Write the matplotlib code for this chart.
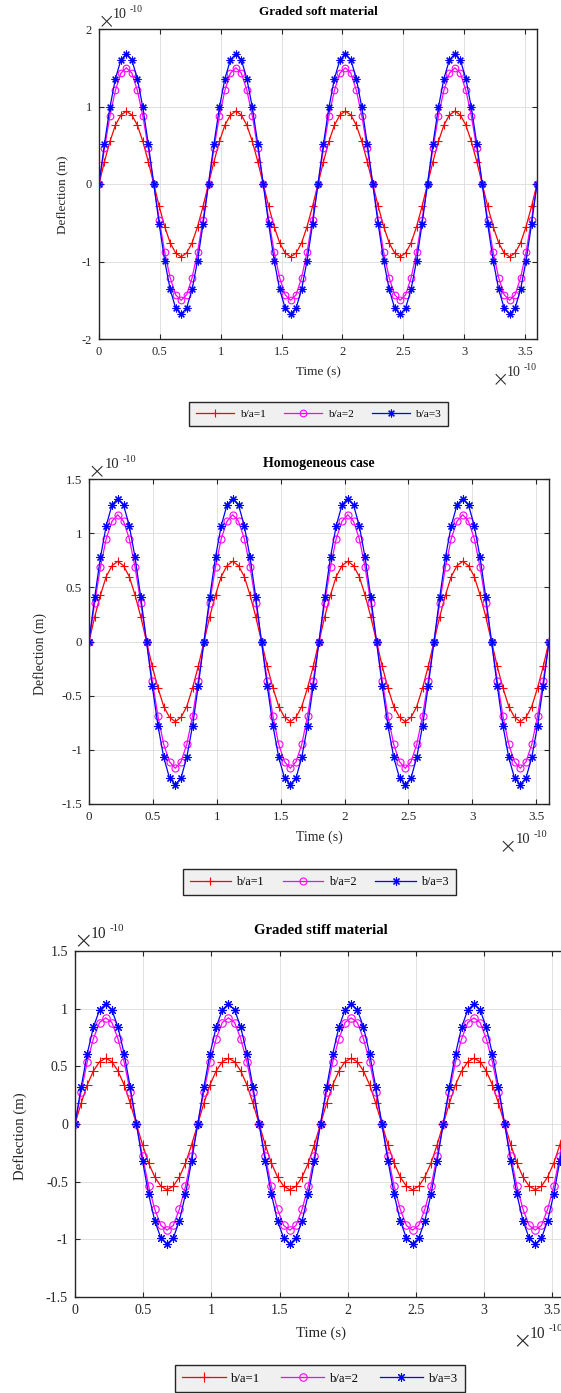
import numpy as np
import matplotlib
matplotlib.use("Agg")
import matplotlib.pyplot as plt

plt.rcParams['font.family'] = ['Liberation Serif', 'DejaVu Serif']
plt.rcParams['axes.unicode_minus'] = False

W, H = 561, 1393

# Sampling instants (units of 1e-10 s)
time = np.linspace(0.0, 3.6, 81)

# Deflection samples (units of 1e-10 m)
soft_ba1 = [0, 0.29, 0.55, 0.76, 0.89, 0.94, 0.89, 0.76, 0.55, 0.29, 0, -0.29, -0.55, -0.76, -0.89, -0.94, -0.89, -0.76, -0.55, -0.29,
            0, 0.29, 0.55, 0.76, 0.89, 0.94, 0.89, 0.76, 0.55, 0.29, 0, -0.29, -0.55, -0.76, -0.89, -0.94, -0.89, -0.76, -0.55, -0.29,
            0, 0.29, 0.55, 0.76, 0.89, 0.94, 0.89, 0.76, 0.55, 0.29, 0, -0.29, -0.55, -0.76, -0.89, -0.94, -0.89, -0.76, -0.55, -0.29,
            0, 0.29, 0.55, 0.76, 0.89, 0.94, 0.89, 0.76, 0.55, 0.29, 0, -0.29, -0.55, -0.76, -0.89, -0.94, -0.89, -0.76, -0.55, -0.29,
            0]
soft_ba2 = [0, 0.46, 0.88, 1.21, 1.43, 1.50, 1.43, 1.21, 0.88, 0.46, 0, -0.46, -0.88, -1.21, -1.43, -1.50, -1.43, -1.21, -0.88, -0.46,
            0, 0.46, 0.88, 1.21, 1.43, 1.50, 1.43, 1.21, 0.88, 0.46, 0, -0.46, -0.88, -1.21, -1.43, -1.50, -1.43, -1.21, -0.88, -0.46,
            0, 0.46, 0.88, 1.21, 1.43, 1.50, 1.43, 1.21, 0.88, 0.46, 0, -0.46, -0.88, -1.21, -1.43, -1.50, -1.43, -1.21, -0.88, -0.46,
            0, 0.46, 0.88, 1.21, 1.43, 1.50, 1.43, 1.21, 0.88, 0.46, 0, -0.46, -0.88, -1.21, -1.43, -1.50, -1.43, -1.21, -0.88, -0.46,
            0]
soft_ba3 = [0, 0.52, 0.99, 1.36, 1.60, 1.68, 1.60, 1.36, 0.99, 0.52, 0, -0.52, -0.99, -1.36, -1.60, -1.68, -1.60, -1.36, -0.99, -0.52,
            0, 0.52, 0.99, 1.36, 1.60, 1.68, 1.60, 1.36, 0.99, 0.52, 0, -0.52, -0.99, -1.36, -1.60, -1.68, -1.60, -1.36, -0.99, -0.52,
            0, 0.52, 0.99, 1.36, 1.60, 1.68, 1.60, 1.36, 0.99, 0.52, 0, -0.52, -0.99, -1.36, -1.60, -1.68, -1.60, -1.36, -0.99, -0.52,
            0, 0.52, 0.99, 1.36, 1.60, 1.68, 1.60, 1.36, 0.99, 0.52, 0, -0.52, -0.99, -1.36, -1.60, -1.68, -1.60, -1.36, -0.99, -0.52,
            0]

homo_ba1 = [0, 0.23, 0.43, 0.60, 0.70, 0.74, 0.70, 0.60, 0.43, 0.23, 0, -0.23, -0.43, -0.60, -0.70, -0.74, -0.70, -0.60, -0.43, -0.23,
            0, 0.23, 0.43, 0.60, 0.70, 0.74, 0.70, 0.60, 0.43, 0.23, 0, -0.23, -0.43, -0.60, -0.70, -0.74, -0.70, -0.60, -0.43, -0.23,
            0, 0.23, 0.43, 0.60, 0.70, 0.74, 0.70, 0.60, 0.43, 0.23, 0, -0.23, -0.43, -0.60, -0.70, -0.74, -0.70, -0.60, -0.43, -0.23,
            0, 0.23, 0.43, 0.60, 0.70, 0.74, 0.70, 0.60, 0.43, 0.23, 0, -0.23, -0.43, -0.60, -0.70, -0.74, -0.70, -0.60, -0.43, -0.23,
            0]
homo_ba2 = [0, 0.36, 0.69, 0.95, 1.11, 1.17, 1.11, 0.95, 0.69, 0.36, 0, -0.36, -0.69, -0.95, -1.11, -1.17, -1.11, -0.95, -0.69, -0.36,
            0, 0.36, 0.69, 0.95, 1.11, 1.17, 1.11, 0.95, 0.69, 0.36, 0, -0.36, -0.69, -0.95, -1.11, -1.17, -1.11, -0.95, -0.69, -0.36,
            0, 0.36, 0.69, 0.95, 1.11, 1.17, 1.11, 0.95, 0.69, 0.36, 0, -0.36, -0.69, -0.95, -1.11, -1.17, -1.11, -0.95, -0.69, -0.36,
            0, 0.36, 0.69, 0.95, 1.11, 1.17, 1.11, 0.95, 0.69, 0.36, 0, -0.36, -0.69, -0.95, -1.11, -1.17, -1.11, -0.95, -0.69, -0.36,
            0]
homo_ba3 = [0, 0.41, 0.78, 1.07, 1.26, 1.32, 1.26, 1.07, 0.78, 0.41, 0, -0.41, -0.78, -1.07, -1.26, -1.32, -1.26, -1.07, -0.78, -0.41,
            0, 0.41, 0.78, 1.07, 1.26, 1.32, 1.26, 1.07, 0.78, 0.41, 0, -0.41, -0.78, -1.07, -1.26, -1.32, -1.26, -1.07, -0.78, -0.41,
            0, 0.41, 0.78, 1.07, 1.26, 1.32, 1.26, 1.07, 0.78, 0.41, 0, -0.41, -0.78, -1.07, -1.26, -1.32, -1.26, -1.07, -0.78, -0.41,
            0, 0.41, 0.78, 1.07, 1.26, 1.32, 1.26, 1.07, 0.78, 0.41, 0, -0.41, -0.78, -1.07, -1.26, -1.32, -1.26, -1.07, -0.78, -0.41,
            0]

stiff_ba1 = [0, 0.18, 0.34, 0.46, 0.54, 0.57, 0.54, 0.46, 0.34, 0.18, 0, -0.18, -0.34, -0.46, -0.54, -0.57, -0.54, -0.46, -0.34, -0.18,
             0, 0.18, 0.34, 0.46, 0.54, 0.57, 0.54, 0.46, 0.34, 0.18, 0, -0.18, -0.34, -0.46, -0.54, -0.57, -0.54, -0.46, -0.34, -0.18,
             0, 0.18, 0.34, 0.46, 0.54, 0.57, 0.54, 0.46, 0.34, 0.18, 0, -0.18, -0.34, -0.46, -0.54, -0.57, -0.54, -0.46, -0.34, -0.18,
             0, 0.18, 0.34, 0.46, 0.54, 0.57, 0.54, 0.46, 0.34, 0.18, 0, -0.18, -0.34, -0.46, -0.54, -0.57, -0.54, -0.46, -0.34, -0.18,
             0]
stiff_ba2 = [0, 0.28, 0.54, 0.74, 0.88, 0.92, 0.88, 0.74, 0.54, 0.28, 0, -0.28, -0.54, -0.74, -0.88, -0.92, -0.88, -0.74, -0.54, -0.28,
             0, 0.28, 0.54, 0.74, 0.88, 0.92, 0.88, 0.74, 0.54, 0.28, 0, -0.28, -0.54, -0.74, -0.88, -0.92, -0.88, -0.74, -0.54, -0.28,
             0, 0.28, 0.54, 0.74, 0.88, 0.92, 0.88, 0.74, 0.54, 0.28, 0, -0.28, -0.54, -0.74, -0.88, -0.92, -0.88, -0.74, -0.54, -0.28,
             0, 0.28, 0.54, 0.74, 0.88, 0.92, 0.88, 0.74, 0.54, 0.28, 0, -0.28, -0.54, -0.74, -0.88, -0.92, -0.88, -0.74, -0.54, -0.28,
             0]
stiff_ba3 = [0, 0.32, 0.61, 0.84, 0.99, 1.04, 0.99, 0.84, 0.61, 0.32, 0, -0.32, -0.61, -0.84, -0.99, -1.04, -0.99, -0.84, -0.61, -0.32,
             0, 0.32, 0.61, 0.84, 0.99, 1.04, 0.99, 0.84, 0.61, 0.32, 0, -0.32, -0.61, -0.84, -0.99, -1.04, -0.99, -0.84, -0.61, -0.32,
             0, 0.32, 0.61, 0.84, 0.99, 1.04, 0.99, 0.84, 0.61, 0.32, 0, -0.32, -0.61, -0.84, -0.99, -1.04, -0.99, -0.84, -0.61, -0.32,
             0, 0.32, 0.61, 0.84, 0.99, 1.04, 0.99, 0.84, 0.61, 0.32, 0, -0.32, -0.61, -0.84, -0.99, -1.04, -0.99, -0.84, -0.61, -0.32,
             0]

series_labels = ['b/a=1', 'b/a=2', 'b/a=3']
series_colors = ['#ff0000', '#ff00ff', '#0000ff']
series_markers = ['+', 'o', (8, 2, 0)]
series_msize = [6.0, 4.8, 5.6]

x_ticks = [0, 0.5, 1, 1.5, 2, 2.5, 3, 3.5]

panels = [
    dict(title='Graded soft material', data=[soft_ba1, soft_ba2, soft_ba3],
         box=(99, 29, 537, 339), ylim=(-2, 2), yticks=[-2, -1, 0, 1, 2], s=1.0,
         title_y=12, xlabel_y=372, ylabel_x=62, ylabel_y=195,
         ymult=(106, 22), xmult=(500, 380), legend=(187, 402, 450, 426)),
    dict(title='Homogeneous case', data=[homo_ba1, homo_ba2, homo_ba3],
         box=(89, 479, 549, 804), ylim=(-1.5, 1.5), yticks=[-1.5, -1, -0.5, 0, 0.5, 1, 1.5], s=1.05,
         title_y=463, xlabel_y=837, ylabel_x=40, ylabel_y=654,
         ymult=(97, 472), xmult=(508, 847), legend=(182, 869, 457, 895)),
    dict(title='Graded stiff material', data=[stiff_ba1, stiff_ba2, stiff_ba3],
         box=(75, 951, 566, 1297), ylim=(-1.5, 1.5), yticks=[-1.5, -1, -0.5, 0, 0.5, 1, 1.5], s=1.12,
         title_y=931, xlabel_y=1333, ylabel_x=20, ylabel_y=1136,
         ymult=(83, 942), xmult=(522, 1342), legend=(173, 1366, 467, 1391)),
]

AX_COLOR = '#262626'


def fx(x):
    return x / W


def fy(y):
    return 1.0 - y / H


def exponent_label(fig, cx, cy, s):
    fig.text(fx(cx), fy(cy), '\u00d7', fontsize=15 * s, ha='center', va='center',
             color=AX_COLOR, family=['DejaVu Sans'], fontweight='ultralight')
    fig.text(fx(cx + 7 * s), fy(cy - 7 * s), '10', fontsize=10 * s, ha='left', va='center', color=AX_COLOR)
    fig.text(fx(cx + 24 * s), fy(cy - 12 * s), '-10', fontsize=7 * s, ha='left', va='center', color=AX_COLOR)


fig = plt.figure(figsize=(W / 100, H / 100), dpi=100)

for p in panels:
    x0, y0, x1, y1 = p['box']
    s = p['s']
    ax = fig.add_axes([fx(x0), fy(y1), (x1 - x0) / W, (y1 - y0) / H])
    handles = []
    for vals, lab, col, mk, msz in zip(p['data'], series_labels, series_colors,
                                       series_markers, series_msize):
        h, = ax.plot(time, vals, color=col, lw=0.9, marker=mk, ms=msz * s,
                     mfc='none' if mk == 'o' else col, mec=col, mew=0.8, label=lab)
        handles.append(h)
    ax.set_xlim(0, 3.6)
    ax.set_ylim(*p['ylim'])
    ax.set_xticks(x_ticks)
    ax.set_xticklabels(['%g' % v for v in x_ticks])
    ax.set_yticks(p['yticks'])
    ax.set_yticklabels(['%g' % v for v in p['yticks']])
    ax.grid(True, color='#dcdcdc', lw=0.6)
    ax.set_axisbelow(True)
    ax.tick_params(direction='in', top=True, right=True, length=3.5, width=0.8,
                   color=AX_COLOR, labelcolor=AX_COLOR, labelsize=9 * s, pad=5)
    for sp in ax.spines.values():
        sp.set_color(AX_COLOR)
        sp.set_linewidth(1.0)

    cx = (x0 + x1) / 2
    fig.text(fx(cx), fy(p['title_y']), p['title'], fontsize=9.5 * s, fontweight='bold',
             ha='center', va='center', color='black')
    fig.text(fx(cx), fy(p['xlabel_y']), 'Time (s)', fontsize=9.5 * s,
             ha='center', va='center', color=AX_COLOR)
    fig.text(fx(p['ylabel_x']), fy(p['ylabel_y']), 'Deflection (m)', fontsize=9.5 * s,
             rotation=90, ha='center', va='center', color=AX_COLOR)
    exponent_label(fig, *p['ymult'], s)
    exponent_label(fig, *p['xmult'], s)

    lx0, ly0, lx1, ly1 = p['legend']
    leg = fig.legend(handles, series_labels, loc='center',
                     bbox_to_anchor=(fx((lx0 + lx1) / 2), fy((ly0 + ly1) / 2)),
                     ncol=3, fontsize=8.2 * s, frameon=True, fancybox=False,
                     handlelength=3.4, handletextpad=0.45, columnspacing=1.6,
                     borderpad=0.6, numpoints=1)
    fr = leg.get_frame()
    fr.set_facecolor('#f0f0f0')
    fr.set_edgecolor(AX_COLOR)
    fr.set_linewidth(1.0)
    fr.set_alpha(1.0)

fig.savefig('out.png', dpi=100)
